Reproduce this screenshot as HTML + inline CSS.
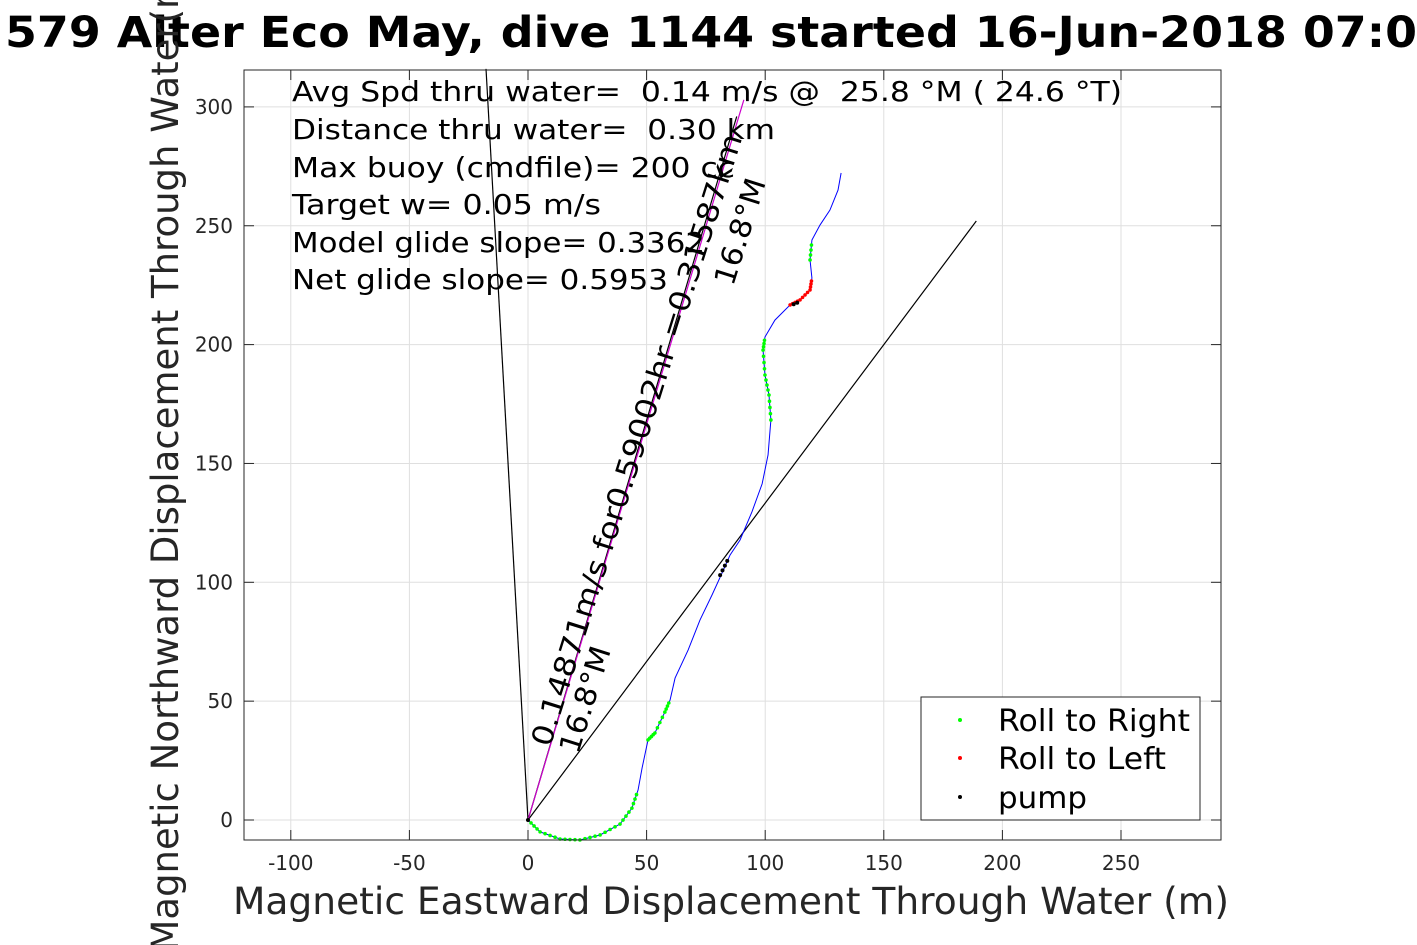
<!DOCTYPE html>
<html><head><meta charset="utf-8"><style>
html,body{margin:0;padding:0;background:#fff;overflow:hidden}
svg{display:block;font-family:"DejaVu Sans","Liberation Sans",sans-serif}
text{white-space:pre}
</style></head><body>
<svg id="c" width="1417" height="945" viewBox="0 0 1417 945">
<rect x="0" y="0" width="1417" height="945" fill="#fff"/>
<g id="grid"></g>
<g id="plot"></g>
<g id="axes"></g>
<text x="5" y="47" font-size="43" font-weight="bold" fill="#000" textLength="1412" lengthAdjust="spacingAndGlyphs">579 Alter Eco May, dive 1144 started 16-Jun-2018 07:0</text>
<text x="233" y="914" font-size="37" fill="#262626" textLength="996" lengthAdjust="spacingAndGlyphs">Magnetic Eastward Displacement Through Water (m)</text>
<text transform="translate(178,455) rotate(-90)" font-size="37" fill="#262626" text-anchor="middle">Magnetic Northward Displacement Through Water(m)</text>
<g font-size="28" fill="#000" lengthAdjust="spacingAndGlyphs">
<text x="292" y="101" textLength="830" lengthAdjust="spacingAndGlyphs">Avg Spd thru water=  0.14 m/s @  25.8 °M ( 24.6 °T)</text>
<text x="292" y="139" textLength="483" lengthAdjust="spacingAndGlyphs">Distance thru water=  0.30 km</text>
<text x="292" y="177" textLength="443" lengthAdjust="spacingAndGlyphs">Max buoy (cmdfile)= 200 cc</text>
<text x="292" y="214" textLength="309" lengthAdjust="spacingAndGlyphs">Target w= 0.05 m/s</text>
<text x="292" y="252" textLength="413" lengthAdjust="spacingAndGlyphs">Model glide slope= 0.3362</text>
<text x="292" y="289" textLength="376" lengthAdjust="spacingAndGlyphs">Net glide slope= 0.5953</text>
</g>
<g>
<rect x="921" y="697" width="279" height="123" fill="#fff" stroke="#262626" stroke-width="1"/>
<circle cx="960" cy="720" r="2" fill="#00ff00"/>
<circle cx="960" cy="758" r="2" fill="#ff0000"/>
<circle cx="960" cy="797" r="2" fill="#000"/>
<text x="998" y="731" font-size="30" textLength="192" lengthAdjust="spacingAndGlyphs">Roll to Right</text>
<text x="998" y="769" font-size="30" textLength="168" lengthAdjust="spacingAndGlyphs">Roll to Left</text>
<text x="998" y="808" font-size="30" textLength="89" lengthAdjust="spacingAndGlyphs">pump</text>
</g>
</svg>
<script>
const xTicks=[-100,-50,0,50,100,150,200,250];
const yTicks=[0,50,100,150,200,250,300];
const trackX=[0,5.1,13.5,21.9,30.4,38.8,43.8,46.4,48.1,50.6,53.5,57.7,59.9,62,67.5,72.5,77.6,81.8,85.2,89.4,94.4,98.7,101.2,102.4,101.6,99.9,99.1,99.9,104.1,110.5,114.7,118.9,119.7,118.9,119.7,123.1,127.3,130.7,132];
const trackY=[0,-5,-8,-8.4,-6.3,-1.7,5,12.6,21.9,33.7,36.6,45.4,50.5,59.7,71.5,84.1,94.7,103.9,111.5,117.8,129.6,141.4,153.6,168.3,178.8,187.2,197.7,203.2,210.3,216.7,218.8,223,228,235.6,244,250.3,256.6,265,272.2];
const rollRightIdx=[[0,7],[9,12],[23,27],[33,34]];
const rollLeftIdx=[[29,32]];
const pumpX=[112,113.5,81,82,83,84,0];
const pumpY=[217,217.6,103,105,107,109,0];
const headingLineEnd=[91,303];
const blackHeadLineEnd=[88,296];
const netLineEnd=[189,252];
const currentLineEnd=[-17.7,316];
const L=244,R=1221,T=70,B=840;
const sx=v=>528+v*2.372, sy=v=>820-v*2.377;
const NS='http://www.w3.org/2000/svg';
function mk(tag,attrs,parent){const e=document.createElementNS(NS,tag);for(const k in attrs)e.setAttribute(k,attrs[k]);parent.appendChild(e);return e;}
const grid=document.getElementById('grid'),plot=document.getElementById('plot'),axes=document.getElementById('axes');
xTicks.forEach(t=>{const l=mk('line',{x1:sx(t),x2:sx(t),y1:T,y2:B,stroke:'#dfdfdf','stroke-width':1},grid);

mk('line',{x1:sx(t),x2:sx(t),y1:B,y2:B-10,stroke:'#262626'},axes);mk('line',{x1:sx(t),x2:sx(t),y1:T,y2:T+10,stroke:'#262626'},axes);
const tx=mk('text',{x:sx(t),y:870,'font-size':20,fill:'#262626','text-anchor':'middle'},axes);tx.textContent=t;
});
yTicks.forEach(t=>{const l=mk('line',{x1:L,x2:R,y1:sy(t),y2:sy(t),stroke:'#dfdfdf','stroke-width':1},grid);

mk('line',{x1:L,x2:L+10,y1:sy(t),y2:sy(t),stroke:'#262626'},axes);mk('line',{x1:R,x2:R-10,y1:sy(t),y2:sy(t),stroke:'#262626'},axes);
const tx=mk('text',{x:233,y:sy(t)+7,'font-size':20,fill:'#262626','text-anchor':'end'},axes);tx.textContent=t;
});
const box=mk('rect',{x:L,y:T,width:R-L,height:B-T,fill:'none',stroke:'#262626','stroke-width':1},axes);

function seg(end,color,name){const l=mk('line',{x1:sx(0),y1:sy(0),x2:sx(end[0]),y2:sy(end[1]),stroke:color,'stroke-width':1.2},plot);
}
seg(currentLineEnd,'#000','current-line');
seg(netLineEnd,'#000','net-displacement-line');
seg(blackHeadLineEnd,'#000','heading-line-black');
seg(headingLineEnd,'#cc00cc','heading-line');
const trk=mk('polyline',{points:trackX.map((x,i)=>sx(x)+','+sy(trackY[i])).join(' '),fill:'none',stroke:'#0000ff','stroke-width':1},plot);

function dots(ranges,color,name){ranges.forEach(([a,b])=>{for(let i=a;i<b;i++){for(let f=0;f<1;f+=0.25){
const x=trackX[i]+(trackX[i+1]-trackX[i])*f,y=trackY[i]+(trackY[i+1]-trackY[i])*f;
const c=mk('circle',{cx:sx(x),cy:sy(y),r:1.8,fill:color},plot);}}});}
dots(rollRightIdx,'#00ff00','roll-right-marker');
dots(rollLeftIdx,'#ff0000','roll-left-marker');
pumpX.forEach((x,i)=>{const c=mk('circle',{cx:sx(x),cy:sy(pumpY[i]),r:2,fill:'#000'},plot);
});
function rot(txt,x,y,name,len){const t=mk('text',{transform:`translate(${x},${y}) rotate(-72.5)`,'font-size':29,fill:'#000'},plot);t.textContent=txt;
if(len){t.setAttribute('textLength',len);t.setAttribute('lengthAdjust','spacingAndGlyphs');}
}
rot('0.14871m/s for0.59002hr =0.31587km',550,748,'heading-label',640);
rot('16.8°M',578,755,'heading-angle-label',110);
rot('16.8°M',733,287,'heading-angle-label-top',110);
</script>
</body></html>
